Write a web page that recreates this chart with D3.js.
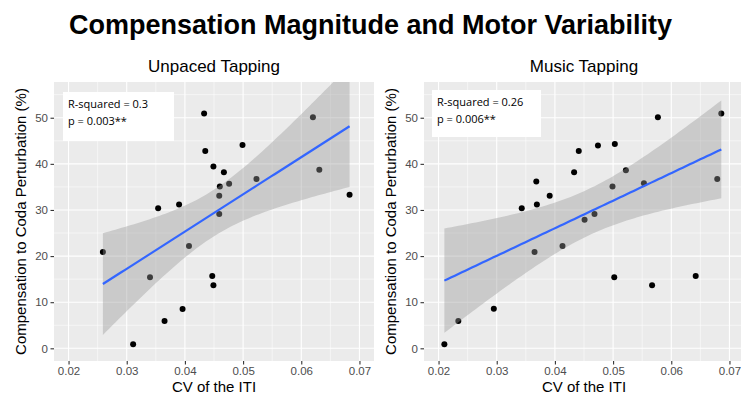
<!DOCTYPE html>
<html>
<head>
<meta charset="utf-8">
<script src="https://cdn.jsdelivr.net/npm/d3@7"></script>
<style>
  html, body { margin: 0; padding: 0; background: #fff; }
  svg { display: block; }
</style>
</head>
<body>
<svg id="chart" width="741" height="398"></svg>
<script>
// ---- Data ----
const unpacedCV = [0.0259, 0.0311, 0.0340, 0.0354, 0.0365, 0.0390, 0.0396, 0.0407, 0.0433, 0.0435,
                   0.0447, 0.0449, 0.0449, 0.0459, 0.0459, 0.0460, 0.0467, 0.0476, 0.0499, 0.0523,
                   0.0620, 0.0631, 0.0683];
const unpacedComp = [20.9, 0.9, 15.4, 30.4, 5.9, 31.2, 8.5, 22.2, 50.9, 42.8,
                     15.7, 13.7, 39.4, 29.1, 33.1, 35.1, 38.2, 35.7, 44.1, 36.7,
                     50.1, 38.7, 33.3];
const musicCV = [0.0210, 0.0234, 0.0295, 0.0343, 0.0365, 0.0368, 0.0369, 0.0391, 0.0413, 0.0433,
                 0.0441, 0.0451, 0.0468, 0.0474, 0.0499, 0.0502, 0.0503, 0.0522, 0.0553, 0.0567,
                 0.0577, 0.0642, 0.0679, 0.0686];
const musicComp = [0.9, 5.9, 8.6, 30.4, 20.9, 36.2, 31.2, 33.1, 22.2, 38.2,
                   42.8, 27.9, 29.1, 44.0, 35.1, 15.4, 44.3, 38.6, 35.8, 13.7,
                   50.1, 15.7, 36.7, 50.9];
const panelTitles = ["Unpaced Tapping", "Music Tapping"];
const statLines = [["R-squared = 0.3", "p = 0.003**"], ["R-squared = 0.26", "p = 0.006**"]];
const xTicks = [0.02, 0.03, 0.04, 0.05, 0.06, 0.07];
const xMinor = [0.025, 0.035, 0.045, 0.055, 0.065];
const yTicks = [0, 10, 20, 30, 40, 50];
const yMinor = [5, 15, 25, 35, 45, 55];
const tCrit = [2.0796, 2.0739]; // t(0.975, n-2)

const svg = d3.select("#chart");
const font = "'Liberation Sans', Arial, Helvetica, sans-serif";

svg.append("text").attr("x", 370.5).attr("y", 34)
  .attr("text-anchor", "middle").attr("font-family", font)
  .attr("font-weight", "bold").attr("font-size", 27).attr("fill", "#000")
  .text("Compensation Magnitude and Motor Variability");

function lmFit(xs, ys, t) {
  const n = xs.length;
  const mx = d3.mean(xs), my = d3.mean(ys);
  let sxx = 0, sxy = 0;
  for (let i = 0; i < n; i++) { sxx += (xs[i]-mx)**2; sxy += (xs[i]-mx)*(ys[i]-my); }
  const b = sxy / sxx, a = my - b*mx;
  let sse = 0;
  for (let i = 0; i < n; i++) sse += (ys[i] - a - b*xs[i])**2;
  const s = Math.sqrt(sse / (n-2));
  const lo = d3.min(xs), hi = d3.max(xs);
  const pts = d3.range(80).map(i => {
    const x = lo + (hi-lo)*i/79;
    const f = a + b*x;
    const se = s*Math.sqrt(1/n + (x-mx)**2/sxx);
    return {x, f, lo: f - t*se, hi: f + t*se};
  });
  return pts;
}

const panels = [
  {x0: 54, x1: 374, xs: unpacedCV, ys: unpacedComp, ylx: 26},
  {x0: 424, x1: 744, xs: musicCV, ys: musicComp, ylx: 396}
];
const y0 = 82, y1 = 361;

panels.forEach((p, k) => {
  const x = d3.scaleLinear().domain([0.0175, 0.0725]).range([p.x0, p.x1]);
  const y = d3.scaleLinear().domain([-2.75, 57.75]).range([y1, y0]);
  const g = svg.append("g");
  const clipId = "clip" + k;
  svg.append("clipPath").attr("id", clipId).append("rect")
    .attr("x", p.x0).attr("y", y0).attr("width", p.x1 - p.x0).attr("height", y1 - y0);

  g.append("rect").attr("x", p.x0).attr("y", y0).attr("width", p.x1 - p.x0).attr("height", y1 - y0)
    .attr("fill", "#EBEBEB");
  // minor grid
  g.selectAll(".vmin").data(xMinor).enter().append("line")
    .attr("x1", d => x(d)).attr("x2", d => x(d)).attr("y1", y0).attr("y2", y1)
    .attr("stroke", "#fff").attr("stroke-width", 0.55);
  g.selectAll(".hmin").data(yMinor).enter().append("line")
    .attr("x1", p.x0).attr("x2", p.x1).attr("y1", d => y(d)).attr("y2", d => y(d))
    .attr("stroke", "#fff").attr("stroke-width", 0.55);
  // major grid
  g.selectAll(".vmaj").data(xTicks).enter().append("line")
    .attr("x1", d => x(d)).attr("x2", d => x(d)).attr("y1", y0).attr("y2", y1)
    .attr("stroke", "#fff").attr("stroke-width", 1.1);
  g.selectAll(".hmaj").data(yTicks).enter().append("line")
    .attr("x1", p.x0).attr("x2", p.x1).attr("y1", d => y(d)).attr("y2", d => y(d))
    .attr("stroke", "#fff").attr("stroke-width", 1.1);

  const plot = g.append("g").attr("clip-path", `url(#${clipId})`);
  // points
  plot.selectAll("circle").data(p.xs.map((v, i) => [v, p.ys[i]])).enter().append("circle")
    .attr("cx", d => x(d[0])).attr("cy", d => y(d[1])).attr("r", 3).attr("fill", "#000");
  // smooth
  const fit = lmFit(p.xs, p.ys, tCrit[k]);
  plot.append("path").datum(fit)
    .attr("d", d3.area().x(d => x(d.x)).y0(d => y(d.lo)).y1(d => y(d.hi)))
    .attr("fill", "#999999").attr("fill-opacity", 0.4);
  plot.append("path").datum(fit)
    .attr("d", d3.line().x(d => x(d.x)).y(d => y(d.f)))
    .attr("fill", "none").attr("stroke", "#3366FF").attr("stroke-width", 2.2);

  // annotation box
  const bx = k === 0 ? 63 : 432, by = k === 0 ? 92 : 90;
  const bw = k === 0 ? 111 : 109, bh = k === 0 ? 49 : 47;
  g.append("rect").attr("x", bx).attr("y", by).attr("width", bw).attr("height", bh).attr("fill", "#fff");
  statLines[k].forEach((s, i) => {
    g.append("text").attr("x", bx + 5).attr("y", by + 16 + i * 17)
      .attr("font-family", "'Open Sans', sans-serif").attr("font-size", 11).attr("fill", "#000")
      .text(s);
  });

  // axes
  const ax = g.append("g").attr("transform", `translate(0,${y1})`)
    .call(d3.axisBottom(x).tickValues(xTicks).tickFormat(d3.format(".2f")).tickSize(3.5).tickPadding(2));
  ax.select(".domain").remove();
  ax.selectAll("line").attr("stroke", "#333333").attr("stroke-width", 1.1);
  ax.selectAll("text").attr("fill", "#4D4D4D").attr("font-size", 11.5).attr("font-family", font);

  const ay = g.append("g").attr("transform", `translate(${p.x0},0)`)
    .call(d3.axisLeft(y).tickValues(yTicks).tickSize(3.5).tickPadding(2.5));
  ay.select(".domain").remove();
  ay.selectAll("line").attr("stroke", "#333333").attr("stroke-width", 1.1);
  ay.selectAll("text").attr("fill", "#4D4D4D").attr("font-size", 11.5).attr("font-family", font);

  // titles
  const cx = (p.x0 + p.x1) / 2;
  g.append("text").attr("x", cx).attr("y", 72).attr("text-anchor", "middle")
    .attr("font-family", font).attr("font-size", 17).attr("fill", "#000").text(panelTitles[k]);
  g.append("text").attr("x", cx).attr("y", 392).attr("text-anchor", "middle")
    .attr("font-family", font).attr("font-size", 15).attr("fill", "#000").text("CV of the ITI");
  g.append("text").attr("transform", `translate(${p.ylx},${(y0 + y1) / 2}) rotate(-90)`)
    .attr("text-anchor", "middle")
    .attr("font-family", font).attr("font-size", 15).attr("fill", "#000")
    .text("Compensation to Coda Perturbation (%)");
});
</script>
</body>
</html>
